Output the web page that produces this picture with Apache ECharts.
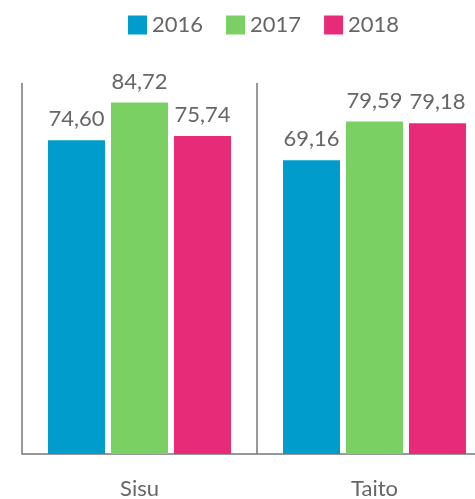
<!DOCTYPE html>
<html>
<head>
<meta charset="utf-8">
<script src="https://cdn.jsdelivr.net/npm/echarts@6/dist/echarts.min.js"></script>
<style>
  html, body { margin: 0; padding: 0; background: #fff; }
  #chart { width: 475px; height: 499px; }
</style>
</head>
<body>
<div id="chart"></div>
<script>
var categories = ['Sisu', 'Taito'];
var years = ['2016', '2017', '2018'];
var values2016 = [74.60, 69.16];
var values2017 = [84.72, 79.59];
var values2018 = [75.74, 79.18];
var colors = ['#009ccc', '#7ad062', '#e72b78'];
// the original value axis runs from -10 to 90, bars grow from its bottom
var axisMin = -10;
var axisMax = 90;

var myChart = echarts.init(document.getElementById('chart'));

function fmt(p) {
  return p.value.toFixed(2).replace('.', ',');
}

function makeSeries(name, data, color) {
  var stack = 's' + name;
  return [
    {
      // invisible filler from the axis bottom up to zero
      name: 'base' + name,
      type: 'bar',
      stack: stack,
      silent: true,
      data: categories.map(function() { return -axisMin; }),
      barWidth: 57,
      barGap: '10.5%',
      itemStyle: { color: color },
      label: { show: false }
    },
    {
      name: name,
      type: 'bar',
      stack: stack,
      data: data,
      barWidth: 57,
      barGap: '10.5%',
      itemStyle: { color: color },
      label: {
        show: true,
        position: 'top',
        distance: 10,
        formatter: fmt,
        color: '#666',
        fontSize: 22,
        fontFamily: 'Lato'
      }
    }
  ];
}

var option = {
  animation: false,
  legend: {
    top: 9,
    left: 123,
    itemWidth: 19,
    itemHeight: 19,
    itemGap: 23,
    icon: 'rect',
    textStyle: { color: '#666', fontSize: 22, fontFamily: 'Lato' },
    data: years
  },
  grid: { left: 22, width: 470, top: 83, bottom: 45, containLabel: false, outerBoundsMode: 'none' },
  xAxis: {
    type: 'category',
    data: categories,
    axisLine: { lineStyle: { color: '#777', width: 1.5 } },
    axisTick: { show: false },
    splitLine: { show: true, lineStyle: { color: '#777', width: 1.5 } },
    axisLabel: { color: '#666', fontSize: 22, fontFamily: 'Lato', margin: 24 }
  },
  yAxis: {
    type: 'value',
    min: 0,
    max: axisMax - axisMin,
    show: false
  },
  series: [].concat(
    makeSeries(years[0], values2016, colors[0]),
    makeSeries(years[1], values2017, colors[1]),
    makeSeries(years[2], values2018, colors[2])
  )
};

myChart.setOption(option);
</script>
</body>
</html>
